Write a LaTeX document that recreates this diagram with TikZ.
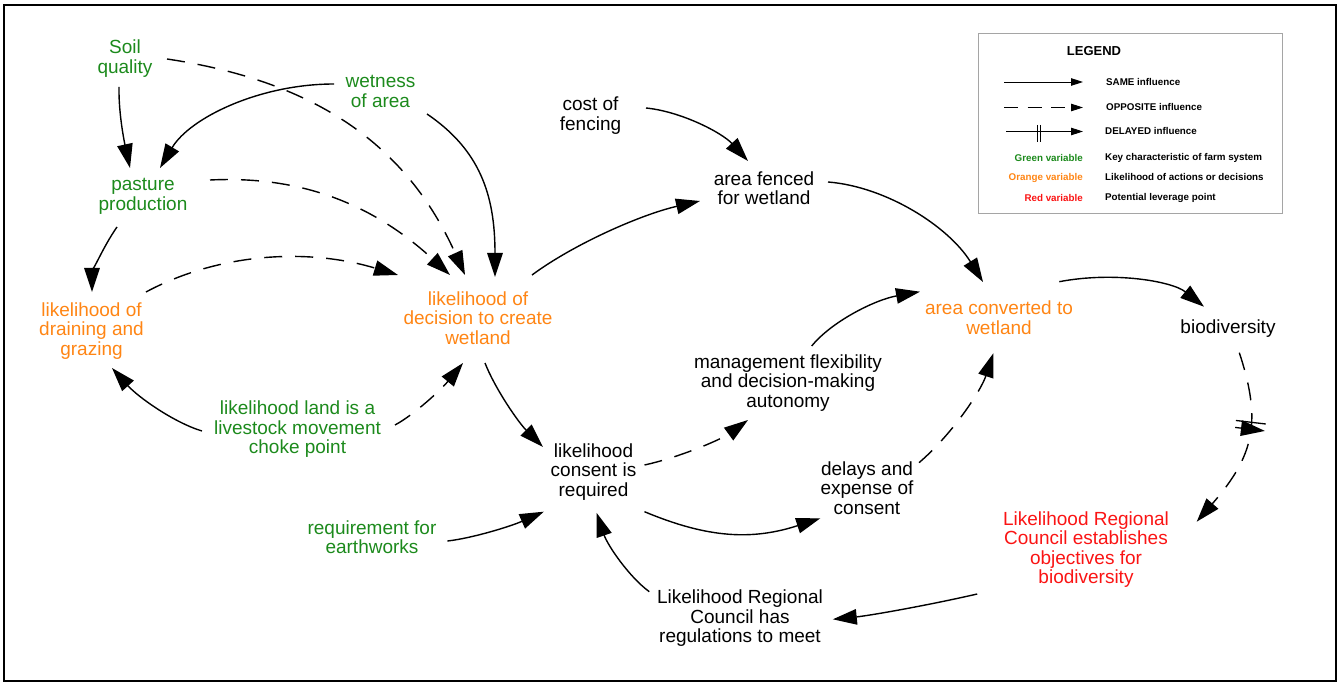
\documentclass[tikz,border=0pt]{standalone}
\usepackage{fontspec}
\setmainfont{Liberation Sans}
\usetikzlibrary{arrows.meta,calc,decorations.markings}
\definecolor{cgreen}{RGB}{28,138,28}
\definecolor{corange}{RGB}{255,133,20}
\definecolor{cred}{RGB}{250,20,20}
\definecolor{cframe}{RGB}{165,165,165}
\begin{document}
\begin{tikzpicture}[x=1pt,y=-1pt,
  var/.style={align=center,font=\fontsize{19}{19.5}\selectfont,inner sep=2pt},
  gvar/.style={var,text=cgreen},
  ovar/.style={var,text=corange},
  rvar/.style={var,text=cred},
  kvar/.style={var,text=black},
  link/.style={line width=1.4pt,-{Triangle[length=24pt,width=15.5pt]}},
  opp/.style={link,dash pattern=on 18pt off 13pt},
  delaymark/.style={postaction={decorate},decoration={markings,mark=at position #1 with {\draw[solid,line width=1.3pt] (-3.5pt,-15pt)--(-3.5pt,15pt) (3.5pt,-15pt)--(3.5pt,15pt);}}},
  legt/.style={font=\fontsize{9.8}{11}\selectfont\bfseries,inner sep=0pt},
  legtitle/.style={font=\fontsize{13}{14}\selectfont\bfseries,inner sep=0pt},
  legarrow/.style={line width=0.9pt,-{Triangle[length=12pt,width=7.5pt]}}
]
\useasboundingbox (0,0) rectangle (1339,684);
\draw[line width=1.8pt] (4,5) rectangle (1336,681);

% variables
\node[gvar] (soil) at (125,58.5) {Soil\\quality};
\node[gvar] (wet) at (380.5,91.5) {wetness\\of area};
\node[gvar] (past) at (143,196.5) {pasture\\production};
\node[ovar] (drain) at (91.5,331) {likelihood of\\draining and\\grazing};
\node[ovar] (dec) at (478,318) {likelihood of\\decision to create\\wetland};
\node[kvar] (cost) at (590.5,115.5) {cost of\\fencing};
\node[kvar] (fenced) at (764,188) {area fenced\\for wetland};
\node[ovar] (conv) at (999,317.5) {area converted to\\wetland};
\node[kvar] (bio) at (1228,329) {biodiversity};
\node[rvar] (rc) at (1086,549.5) {Likelihood Regional\\Council establishes\\objectives for\\biodiversity};
\node[kvar] (mgmt) at (788,383) {management flexibility\\and decision-making\\autonomy};
\node[kvar] (cons) at (593.5,472) {likelihood\\consent is\\required};
\node[gvar] (choke) at (297.5,429.5) {likelihood land is a\\livestock movement\\choke point};
\node[gvar] (earth) at (372,537) {requirement for\\earthworks};
\node[kvar] (delay) at (867,488) {delays and\\expense of\\consent};
\node[kvar] (regs) at (740,618.3) {Likelihood Regional\\Council has\\regulations to meet};

% links
\draw[link] ($(soil)+(-6,28.5)$) .. controls (118.5,115) and (125,145) .. ($(past)+(-13,-28.5)$);
\draw[opp] ($(soil)+(42,0.5)$) .. controls (317.5,81.6) and (407,146) .. ($(dec)+(-13,-43)$);
\draw[link] ($(wet)+(-46.5,-7.5)$) .. controls (260,84) and (190,117.6) .. ($(past)+(17,-28.5)$);
\draw[link] ($(wet)+(46.5,22.5)$) .. controls (480,150) and (495,195) .. ($(dec)+(17,-41)$);
\draw[opp] ($(past)+(67,-16.5)$) .. controls (300.8,175.5) and (372.8,204) .. ($(dec)+(-28,-43)$);
\draw[link] ($(past)+(-26,30.5)$) .. controls (102,248.4) and (92,274.8) .. ($(drain)+(0.5,-39)$);
\draw[opp] ($(drain)+(54.5,-39)$) .. controls (217.6,253.6) and (305.8,247.3) .. ($(dec)+(-80,-43)$);
\draw[link] ($(choke)+(-95.5,1.5)$) .. controls (174.6,422.8) and (138.6,397.6) .. ($(drain)+(20.5,37)$);
\draw[opp] ($(choke)+(97.5,-4.5)$) .. controls (413.2,415.3) and (440.4,390.5) .. ($(dec)+(-15,45)$);
\draw[link] ($(dec)+(54,-43)$) .. controls (573.6,244.2) and (640.7,214.6) .. ($(fenced)+(-64,13)$);
\draw[link] ($(cost)+(55.5,-7.5)$) .. controls (681.2,111.5) and (722,132.7) .. ($(fenced)+(-16,-27)$);
\draw[link] ($(fenced)+(64,-6)$) .. controls (886.7,186.7) and (948.7,226.7) .. ($(conv)+(-16,-35.5)$);
\draw[link] ($(dec)+(7,45)$) .. controls (495,388.6) and (518.2,422.2) .. ($(cons)+(-50.5,-25)$);
\draw[opp] ($(cons)+(51,-7)$) .. controls (680.4,457.1) and (721.7,439.1) .. ($(mgmt)+(-40,37)$);
\draw[link] ($(mgmt)+(23.7,-37)$) .. controls (831.5,321.6) and (874.8,299.8) .. ($(conv)+(-79,-25.8)$);
\draw[link] ($(cons)+(51,39.7)$) .. controls (708.7,538.6) and (752.8,540.2) .. ($(delay)+(-46.7,30.3)$);
\draw[opp] ($(delay)+(52,-25.3)$) .. controls (951.4,435) and (980.8,391.3) .. ($(conv)+(-5.7,35.8)$);
\draw[link] ($(earth)+(75.4,4)$) .. controls (471.2,538.4) and (509.8,526.7) .. ($(cons)+(-49.7,39.7)$);
\draw[link] ($(regs)+(-90.7,-26.6)$) .. controls (628.7,576.6) and (607.5,545) .. ($(cons)+(3,40.7)$);
\draw[link] ($(rc)+(-108.8,44.5)$) .. controls (927.1,605.5) and (869.4,615.6) .. ($(regs)+(92.8,1)$);
\draw[link] ($(conv)+(60.3,-35.8)$) .. controls (1114.3,271.2) and (1172.2,281.3) .. ($(bio)+(-24,-22.3)$);
\draw[opp,delaymark=0.40] ($(bio)+(11.3,23.7)$) .. controls (1262.3,422.3) and (1253.8,456.1) .. ($(rc)+(110.7,-27.8)$);

% legend
\draw[cframe,line width=0.8pt] (978,33) rectangle (1282,213);
\node[legtitle] (legt0) at (1094,51) {LEGEND};
\coordinate (la1) at (1004,82); \coordinate (lb1) at (1083,82);
\coordinate (la2) at (1004,107.5); \coordinate (lb2) at (1083,107.5);
\coordinate (la3) at (1006,131.5); \coordinate (lb3) at (1083,131.5);
\draw[legarrow] (la1) -- (lb1);
\draw[legarrow,dash pattern=on 14pt off 9.5pt] (la2) -- (lb2);
\draw[legarrow] (la3) -- (lb3);
\draw[line width=0.9pt] (1037,125) -- (1037,142) (1040.5,125) -- (1040.5,142);
\node[legt,anchor=west] (ls) at (1106,82) {SAME influence};
\node[legt,anchor=west] (lo) at (1106,107.5) {OPPOSITE influence};
\node[legt,anchor=west] (ld) at (1105,131.5) {DELAYED influence};
\node[legt,anchor=east,text=cgreen] (lg) at (1083,158) {Green variable};
\node[legt,anchor=east,text=corange] (lor) at (1083,177.5) {Orange variable};
\node[legt,anchor=east,text=cred] (lr) at (1083,198) {Red variable};
\node[legt,anchor=west] (lgd) at (1105,158) {Key characteristic of farm system};
\node[legt,anchor=west] (lod) at (1105,177.5) {Likelihood of actions or decisions};
\node[legt,anchor=west] (lrd) at (1105,198) {Potential leverage point};
\end{tikzpicture}
\end{document}
